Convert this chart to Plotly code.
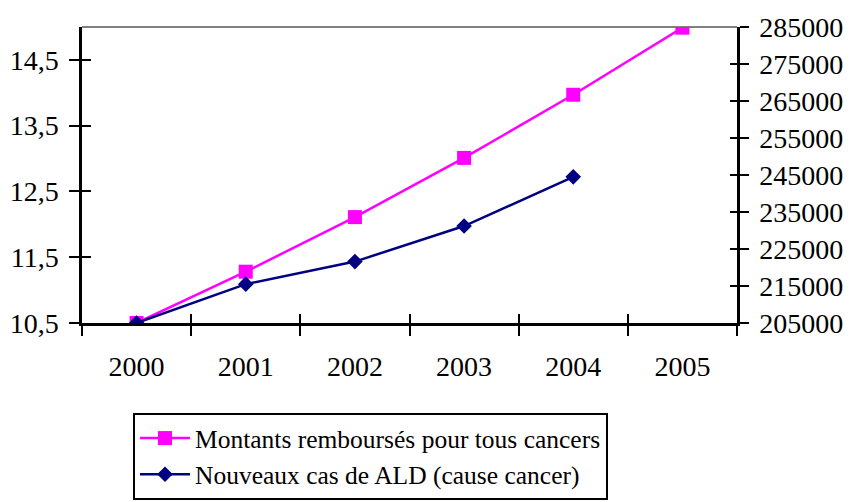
import plotly.graph_objects as go

years = ["2000", "2001", "2002", "2003", "2004", "2005"]
montants = [10.5, 11.28, 12.11, 13.01, 13.97, 14.99]
nouveaux_cas = [205000, 215500, 221600, 231200, 244500]
left_ticks = [10.5, 11.5, 12.5, 13.5, 14.5]
right_ticks = [205000, 215000, 225000, 235000, 245000, 255000, 265000, 275000, 285000]

name_montants = "Montants remboursés pour tous cancers"
name_cas = "Nouveaux cas de ALD (cause cancer)"

FONT = "Liberation Serif"
AXFONT = dict(family=FONT, size=28, color="black")

fig = go.Figure()
fig.add_trace(go.Scatter(
    x=years, y=montants, name=name_montants, mode="lines+markers",
    line=dict(color="#FF00FF", width=2.5),
    marker=dict(symbol="square", size=14, color="#FF00FF"),
    xaxis="x", yaxis="y"))
fig.add_trace(go.Scatter(
    x=years[:len(nouveaux_cas)], y=nouveaux_cas, name=name_cas, mode="lines+markers",
    line=dict(color="#000080", width=2.5),
    marker=dict(symbol="diamond", size=12, color="#000080"),
    xaxis="x", yaxis="y2"))
# invisible helper traces so the inside-tick overlay axes are drawn
fig.add_trace(go.Scatter(x=years, y=montants, mode="markers", opacity=0,
                         showlegend=False, hoverinfo="skip", xaxis="x2", yaxis="y3"))
fig.add_trace(go.Scatter(x=years[:len(nouveaux_cas)], y=nouveaux_cas, mode="markers", opacity=0,
                         showlegend=False, hoverinfo="skip", xaxis="x2", yaxis="y4"))

lrange = [10.5, 15.0]
rrange = [205000, 285000]
xr = [-0.5, 5.5]

W, H = 843, 494  # page body has an 8px margin

fig.update_layout(
    width=W, height=H,
    margin=dict(l=74, r=114, t=19, b=179, autoexpand=False),
    paper_bgcolor="white", plot_bgcolor="white",
    separators=", ",
    font=dict(family=FONT, color="black"),
    xaxis=dict(type="category", range=xr, tickson="boundaries", automargin=False,
               ticks="outside", ticklen=10, tickwidth=2, tickcolor="black",
               showline=True, linecolor="black", linewidth=2.5,
               showgrid=False, zeroline=False, tickfont=AXFONT,
               ticklabelstandoff=17),
    xaxis2=dict(type="category", range=xr, overlaying="x", anchor="y", side="bottom",
                tickson="boundaries", ticks="inside", ticklen=9, tickwidth=2,
                tickcolor="black", showticklabels=False, showline=False,
                showgrid=False, zeroline=False, automargin=False),
    yaxis=dict(range=lrange, tickvals=left_ticks, tickformat=".1f", automargin=False,
               ticks="outside", ticklen=10, tickwidth=2, tickcolor="black",
               showline=True, linecolor="black", linewidth=2.5,
               showgrid=False, zeroline=False, tickfont=AXFONT,
               ticklabelstandoff=5),
    yaxis2=dict(range=rrange, tickvals=right_ticks, tickformat="d", automargin=False,
                overlaying="y", side="right", anchor="x",
                ticks="outside", ticklen=9, tickwidth=2, tickcolor="black",
                showline=True, linecolor="black", linewidth=2.5,
                showgrid=False, zeroline=False, tickfont=AXFONT,
                ticklabelstandoff=5),
    yaxis3=dict(range=lrange, tickvals=left_ticks, overlaying="y", side="left",
                anchor="x2", ticks="inside", ticklen=9, tickwidth=2, tickcolor="black",
                showticklabels=False, showline=False, showgrid=False, zeroline=False,
                automargin=False),
    yaxis4=dict(range=rrange, tickvals=right_ticks, overlaying="y", side="right",
                anchor="x2", ticks="inside", ticklen=7, tickwidth=2, tickcolor="black",
                showticklabels=False, showline=False, showgrid=False, zeroline=False,
                automargin=False),
    legend=dict(xref="container", yref="container", x=125 / W, y=1 - 405 / H,
                xanchor="left", yanchor="top",
                bordercolor="black", borderwidth=2, bgcolor="white",
                font=dict(family=FONT, size=25.5, color="black"),
                tracegroupgap=0, itemwidth=50),
    shapes=[dict(type="line", xref="paper", yref="paper", x0=0, x1=1, y0=1, y1=1,
                 line=dict(color="#808080", width=2), layer="below")],
    showlegend=True,
)

fig.write_html("out.html")
